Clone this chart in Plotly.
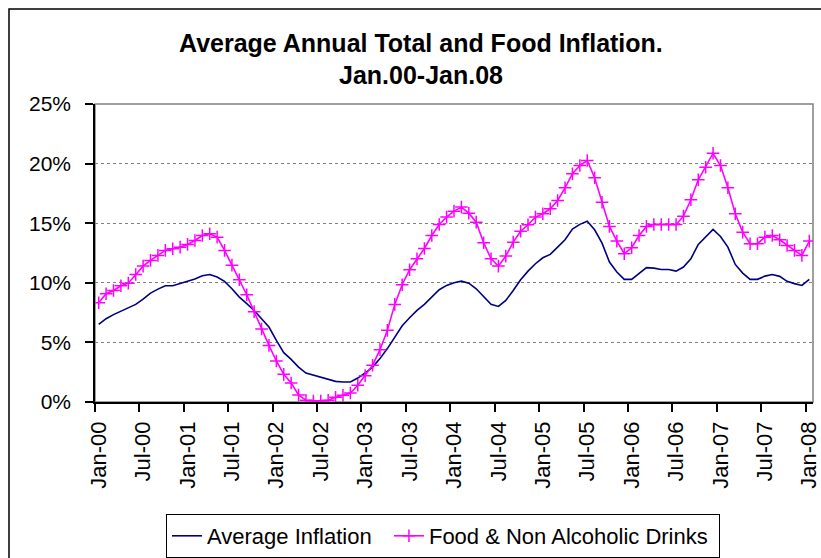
import pandas as pd
import plotly.graph_objects as go

# Monthly categories Jan-00 .. Jan-08
months = [d.strftime("%b-%y") for d in pd.date_range("2000-01-01", "2008-01-01", freq="MS")]

avg_inflation = [
    6.51, 6.99, 7.33, 7.63, 7.91, 8.19, 8.63, 9.14, 9.47, 9.75, 9.75, 9.93,
    10.15, 10.31, 10.60, 10.70, 10.48, 10.12, 9.50, 8.80, 8.25, 7.68, 6.99, 6.29,
    5.17, 4.14, 3.58, 2.93, 2.43, 2.26, 2.10, 1.88, 1.73, 1.68, 1.68, 2.01,
    2.43, 2.93, 3.64, 4.48, 5.40, 6.40, 7.07, 7.69, 8.19, 8.80, 9.42, 9.78,
    10.01, 10.14, 9.97, 9.50, 8.80, 8.19, 8.02, 8.52, 9.36, 10.26, 10.98, 11.60,
    12.10, 12.38, 12.99, 13.61, 14.50, 14.90, 15.17, 14.45, 13.33, 11.74, 10.90, 10.29,
    10.29, 10.81, 11.27, 11.23, 11.12, 11.12, 10.98, 11.32, 12.02, 13.22, 13.83, 14.48,
    13.89, 12.99, 11.54, 10.81, 10.29, 10.29, 10.56, 10.70, 10.54, 10.12, 9.93, 9.78,
    10.29,
]

food_drinks = [
    8.33, 9.08, 9.36, 9.75, 9.97, 10.70, 11.40, 11.88, 12.30, 12.72, 12.86, 12.99,
    13.22, 13.55, 13.97, 14.11, 13.83, 12.72, 11.48, 10.26, 9.00, 7.58, 6.12, 4.75,
    3.44, 2.32, 1.59, 0.59, 0.14, 0.08, 0.08, 0.14, 0.40, 0.56, 0.75, 1.40,
    2.21, 3.08, 4.39, 6.01, 8.19, 9.84, 11.10, 12.02, 12.88, 13.97, 14.89, 15.51,
    16.01, 16.35, 15.84, 15.09, 13.36, 12.02, 11.40, 12.24, 13.41, 14.33, 14.87, 15.51,
    15.79, 16.21, 16.91, 17.97, 19.15, 19.84, 20.26, 18.81, 16.76, 14.73, 13.50, 12.44,
    12.94, 13.97, 14.73, 14.89, 14.89, 14.89, 14.89, 15.59, 16.97, 18.64, 19.70, 20.87,
    19.84, 17.97, 15.79, 14.25, 13.28, 13.28, 13.83, 13.97, 13.61, 13.13, 12.72, 12.30,
    13.50,
]

y_ticks = [0, 5, 10, 15, 20, 25]
y_tick_text = [f"{v}%" for v in y_ticks]
label_step = 6

FONT = "Arial, 'Liberation Sans', sans-serif"
NBSP = "\u00a0"

fig = go.Figure()
fig.add_trace(go.Scatter(
    x=months, y=avg_inflation, mode="lines", name="Average Inflation" + NBSP * 2,
    line=dict(color="#000080", width=1.6),
))
fig.add_trace(go.Scatter(
    x=months, y=food_drinks, mode="lines+markers", name="Food & Non Alcoholic Drinks" + NBSP,
    line=dict(color="#FF00FF", width=1.6),
    marker=dict(symbol="cross-thin", size=9, color="#FF00FF",
                line=dict(color="#FF00FF", width=1.5)),
))

W, H = 821, 558
L, R, T, B = 95, 8, 104, 156
pw, ph = W - L - R, H - T - B

def px_x(p):
    return (p - L) / pw

def px_y(p):
    return (H - B - p) / ph

fig.update_layout(
    width=W, height=H,
    margin=dict(l=L, r=R, t=T, b=B, pad=0, autoexpand=False),
    paper_bgcolor="white", plot_bgcolor="white",
    font=dict(family=FONT, size=21, color="black"),
    showlegend=True,
    legend=dict(
        orientation="h", x=px_x(443), xanchor="center", y=px_y(514), yanchor="top",
        bordercolor="black", borderwidth=1, font=dict(size=22),
        itemwidth=30, tracegroupgap=0,
    ),
    xaxis=dict(
        type="category", automargin=False,
        range=[-0.5, len(months) - 0.5],
        dtick=label_step, tick0=0,
        tickson="boundaries",
        tickangle=-90,
        showgrid=False, zeroline=False,
        showline=True, linecolor="black", linewidth=1.5,
        ticks="outside", ticklen=8, tickcolor="black", tickwidth=1.5,
        ticklabelstandoff=9,
        tickfont=dict(size=22),
    ),
    yaxis=dict(
        automargin=False,
        range=[0, 25], tickmode="array", tickvals=y_ticks, ticktext=y_tick_text,
        showgrid=True, gridcolor="#808080", griddash="dot", gridwidth=1,
        zeroline=False,
        showline=True, linecolor="black", linewidth=1.5,
        ticks="outside", ticklen=8, tickcolor="black", tickwidth=1.5,
        ticklabelstandoff=10,
        tickfont=dict(size=21),
    ),
    shapes=[
        dict(type="rect", xref="paper", yref="paper", x0=0, x1=1, y0=0, y1=1,
             line=dict(color="#808080", width=1.5), layer="below"),
        dict(type="rect", xref="paper", yref="paper",
             x0=px_x(9), x1=px_x(840), y0=px_y(580), y1=px_y(9),
             line=dict(color="black", width=1.5), layer="below"),
    ],
    annotations=[
        dict(text="<b>Average Annual Total and Food Inflation.</b>", xref="paper", yref="paper",
             x=px_x(421), y=px_y(43), xanchor="center", yanchor="middle",
             showarrow=False, font=dict(size=25)),
        dict(text="<b>Jan.00-Jan.08</b>", xref="paper", yref="paper",
             x=px_x(421), y=px_y(75), xanchor="center", yanchor="middle",
             showarrow=False, font=dict(size=25)),
    ],
)

fig.write_html("out.html")
